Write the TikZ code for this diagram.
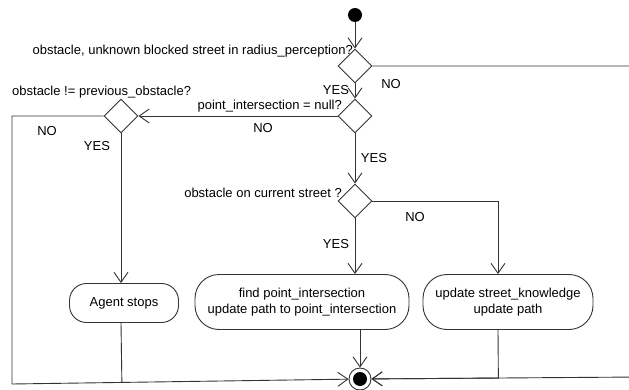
\documentclass[tikz,border=0pt]{standalone}
\usepackage{fontspec}
\setmainfont{Liberation Sans}
\usetikzlibrary{shapes.geometric, arrows.meta, calc}

\begin{document}
\begin{tikzpicture}[
        x=1pt, y=-1pt, % pixel grid, y down
        font=\fontsize{13}{16.5}\selectfont,
        decision/.style={draw=black!80, line width=0.9pt, diamond, aspect=1, minimum width=34pt, minimum height=34pt, inner sep=0pt}, % choice
        activity/.style={draw=black!80, line width=0.9pt, rounded corners=24pt, minimum height=55pt, align=center}, % action box
        startstate/.style={circle, fill=black, minimum size=14pt, inner sep=0pt},
        endstate/.style={circle, draw=black!80, line width=0.9pt, fill=white, minimum size=22pt, inner sep=0pt,
            path picture={\fill[black] (path picture bounding box.center) circle (7pt);}},
        link/.style={draw=black!80, line width=0.9pt}, % plain line
        flow/.style={link, -{Straight Barb[length=10pt, width=14pt]}} % arrow
        ]
        \useasboundingbox (0,0) rectangle (629,390);
        \clip (0,0) rectangle (629,390);

        % Define nodes
        \node (start) [startstate] at (355,15) {};
        \node (d1) [decision] at (355,66) {};
        \node (d2) [decision] at (355,116) {};
        \node (d3) [decision] at (121,116) {};
        \node (d4) [decision] at (355,201) {};
        \node (agent) [activity, minimum width=109pt, minimum height=39pt, rounded corners=17pt] at (124,303) {Agent stops};
        \node (find) [activity, minimum width=214pt] at (302,302) {find point\_intersection\\update path to point\_intersection};
        \node (update) [activity, minimum width=170pt] at (508,302) {update street\_knowledge\\update path};
        \node (end) [endstate] at (360,379) {};
        \coordinate (rim) at (640,377);
        \coordinate (corner) at (12,384);

        % Questions
        \node (q1) [anchor=east, inner sep=0pt] at (353,51) {obstacle, unknown blocked street in radius\_perception?};
        \node (q2) [anchor=west, inner sep=0pt] at (12,92) {obstacle != previous\_obstacle?};
        \node (q3) [anchor=east, inner sep=0pt] at (342,106) {point\_intersection = null?};
        \node (q4) [anchor=east, inner sep=0pt] at (342,193) {obstacle on current street ?};

        % Draw arrows
        \draw[flow] (start) -- (d1);
        \draw[flow] (d1) -- (d2);
        \node at (336,90) {YES};
        \draw[flow] (d1.east) -| (rim) -- (end);
        \node at (391,84) {NO};

        \draw[flow] (d2.west) -- (d3.east);
        \node at (263,128) {NO};
        \draw[flow] (d2) -- (d4);
        \node at (374,158) {YES};

        \draw[flow] (d3.west) -| (corner) -- (end);
        \node at (47,131) {NO};
        \draw[flow] (d3) -- (d3 |- agent.north);
        \node at (97,146) {YES};
        \draw[link] ([xshift=-3pt]agent.south) -- ($(corner)!([xshift=-3pt]agent.south)!(end.west)$);

        \draw[flow] (d4) -- (d4 |- find.north);
        \node at (336,244) {YES};
        \draw[flow] (d4) -| ([xshift=-10pt]update.north);
        \node at (415,217) {NO};

        \draw[flow] (end |- find.south) -- (end);
        \draw[flow] ([xshift=-10pt]update.south) -- ($(rim)!([xshift=-10pt]update.south)!(end.east)$) -- (end);

    \end{tikzpicture}
\end{document}
